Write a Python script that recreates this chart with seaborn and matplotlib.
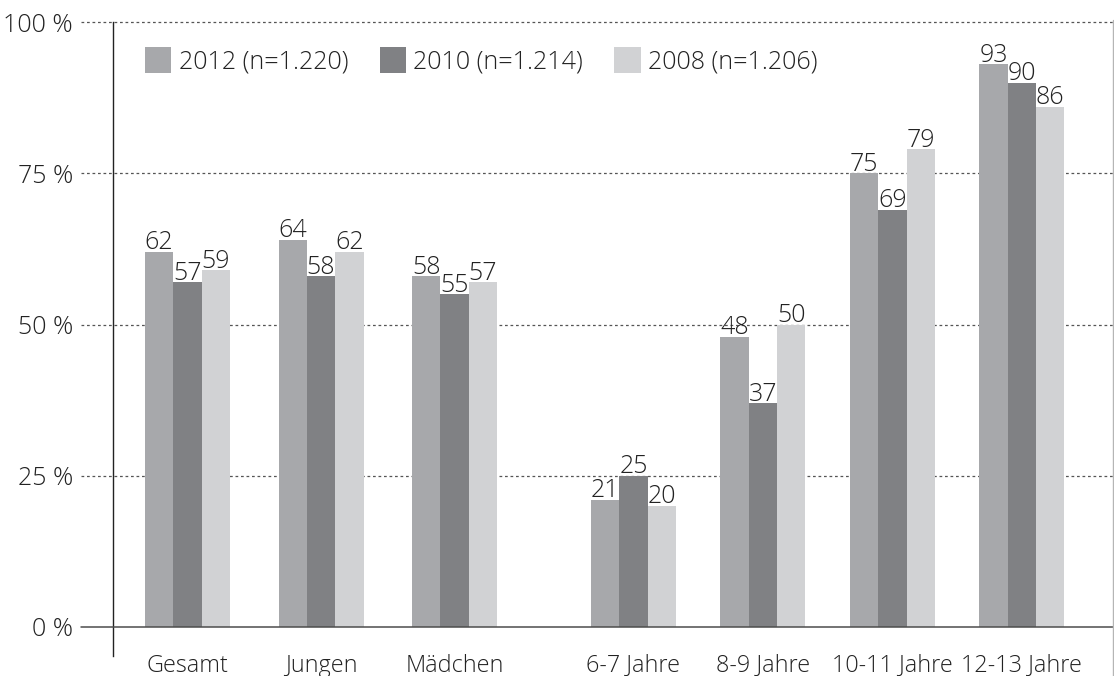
import matplotlib
matplotlib.use("Agg")
import matplotlib.pyplot as plt
import matplotlib.lines as mlines
import seaborn as sns
import pandas as pd
from matplotlib.patches import Patch
from matplotlib.transforms import blended_transform_factory

# ---------------- data ----------------
categories = ["Gesamt", "Jungen", "Mädchen", "6-7 Jahre", "8-9 Jahre", "10-11 Jahre", "12-13 Jahre"]
series = ["2012 (n=1.220)", "2010 (n=1.214)", "2008 (n=1.206)"]
v2012 = [62, 64, 58, 21, 48, 75, 93]
v2010 = [57, 58, 55, 25, 37, 69, 90]
v2008 = [59, 62, 57, 20, 50, 79, 86]
yticks = [0, 25, 50, 75, 100]
ytick_labels = ["0 %", "25 %", "50 %", "75 %", "100 %"]

# ---------------- layout / style ----------------
group_pos = [0, 1, 2, 3.34, 4.31, 5.28, 6.25]   # group centres (gap between gender and age groups)
colors = ["#A7A8AB", "#808184", "#D1D2D4"]
text_color = "#222222"
FS = 18
FS_X = 16.8

sns.set_style("white")
plt.rcParams["font.family"] = ["Open Sans", "DejaVu Sans"]
plt.rcParams["font.weight"] = "light"
plt.rcParams["text.color"] = text_color

rows = []
for s, vals in zip(series, [v2012, v2010, v2008]):
    for p, v in zip(group_pos, vals):
        rows.append({"pos": p, "value": v, "series": s})
df = pd.DataFrame(rows)

W, H = 1114, 676
fig = plt.figure(figsize=(W / 100, H / 100), dpi=100)
ax_left, ax_right, ax_top, ax_bot = 112.5, 1113, 22, 656
ax = fig.add_axes([ax_left / W, 1 - ax_bot / H, (ax_right - ax_left) / W, (ax_bot - ax_top) / H])

unit = 133.5
native_w = min(b - a for a, b in zip(group_pos[:-1], group_pos[1:]))
sns.barplot(data=df, x="pos", y="value", hue="series", hue_order=series,
            palette=colors, native_scale=True, width=(85 / unit) / native_w,
            gap=0, dodge=True, saturation=1, errorbar=None, linewidth=0,
            legend=False, ax=ax)

for c in ax.containers:
    ax.bar_label(c, fmt="%d", padding=-2.5, fontsize=FS, color=text_color)

y0px = 627
ypx = (y0px - ax_top) / 100.0
ax.set_ylim(-(ax_bot - y0px) / ypx, 100)
ax.set_xlim(-(187.5 - ax_left) / unit, (ax_right - 187.5) / unit)

ax.set_yticks(yticks, ytick_labels)
ax.set_xticks(group_pos, categories)
ax.tick_params(axis="y", length=0, pad=(ax_left - 73) / 1.389, labelsize=FS, labelcolor=text_color)
ax.tick_params(axis="x", length=0, pad=-1.5, labelsize=FS_X, labelcolor=text_color)
ax.set_xlabel("")
ax.set_ylabel("")

for sp in ["top", "right", "bottom"]:
    ax.spines[sp].set_visible(False)
ax.spines["left"].set_color("#222222")
ax.spines["left"].set_linewidth(1.0)

trans = blended_transform_factory(ax.transAxes, ax.transData)
x_start = (81 - ax_left) / (ax_right - ax_left)
for yv in yticks[1:]:
    ax.plot([x_start, 1], [yv, yv], transform=trans, clip_on=False,
            color="#555555", lw=0.9, linestyle=(0, (2.2, 2.2)), zorder=0.5)
ax.plot([x_start, 1], [0, 0], transform=trans, clip_on=False,
        color="#4d4d4d", lw=1.1, zorder=3)

# light frame line at the right edge
fig.add_artist(mlines.Line2D([1112.5 / W, 1112.5 / W], [0, 1 - 20 / H],
                             transform=fig.transFigure, color="#b5b5b5", lw=1.0))

handles = [Patch(facecolor=c, edgecolor="none") for c in colors]
fig.legend(handles, series, loc="center left", bbox_to_anchor=(145 / W, 1 - 61 / H),
           ncol=3, frameon=False, borderpad=0, borderaxespad=0,
           handlelength=1.05, handleheight=1.2, handletextpad=0.3,
           columnspacing=1.25, fontsize=FS)

fig.savefig("out.png", dpi=100)
